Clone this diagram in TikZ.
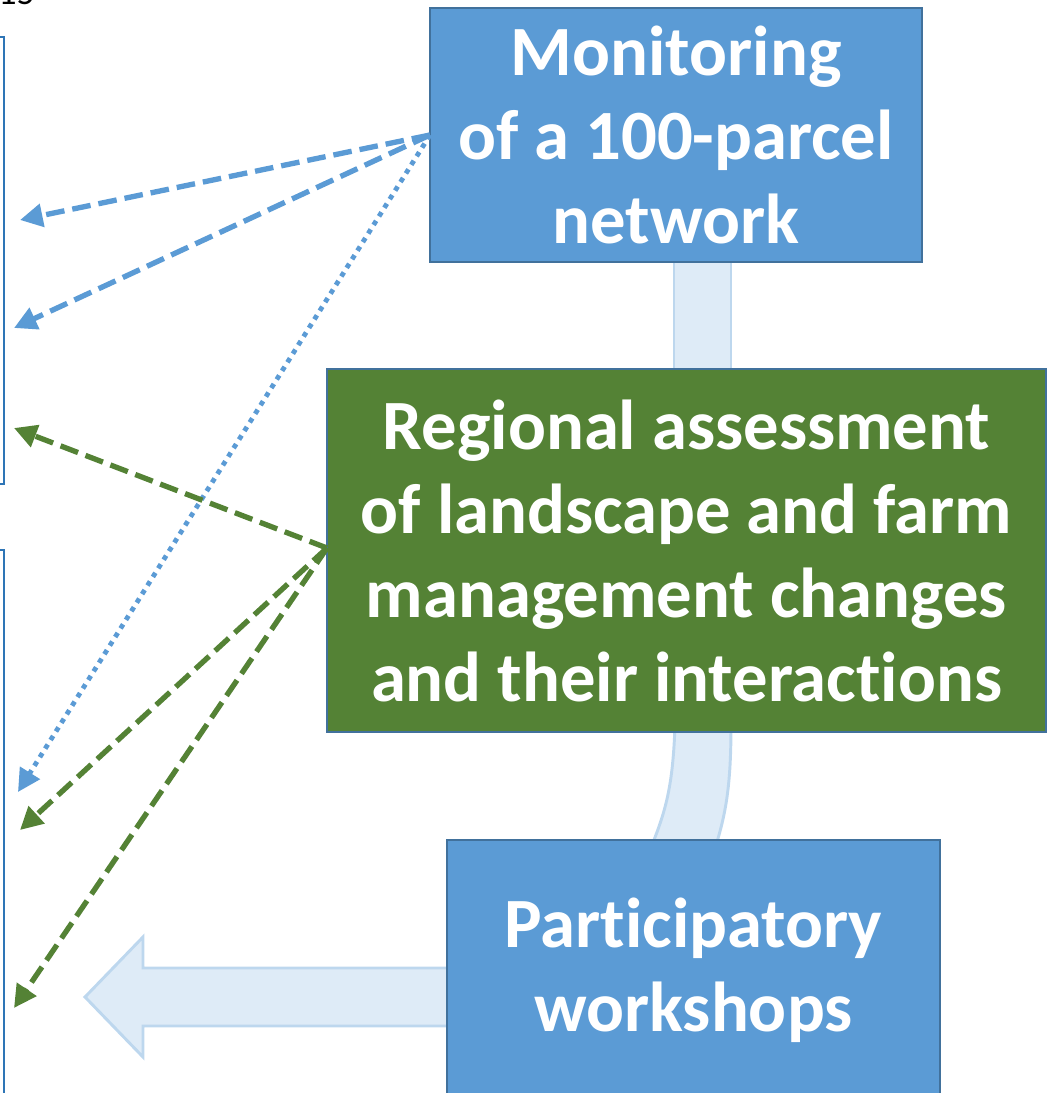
\documentclass[tikz,border=0pt]{standalone}
\usepackage{fontspec}
\setmainfont{Carlito}[Ligatures={NoCommon}]
\usetikzlibrary{arrows.meta}
\definecolor{boxblue}{HTML}{5B9BD5}
\definecolor{boxedge}{HTML}{41719C}
\definecolor{boxgreen}{HTML}{548235}
\definecolor{bandfill}{HTML}{DEEBF7}
\definecolor{bandedge}{HTML}{BDD7EE}
\definecolor{panel}{HTML}{2E75B6}
\begin{document}
\begin{tikzpicture}[x=0.75pt,y=-0.75pt,
  mainbox/.style={draw=boxedge,line width=1.9pt,text=white,align=center,
    font=\fontsize{53}{63}\selectfont\bfseries,inner sep=0pt},
  band/.style={fill=bandfill,draw=bandedge,line width=2.2pt},
  bluedash/.style={draw=boxblue,line width=4pt,dash pattern=on 14pt off 6pt,
    -{Triangle[length=17pt,width=17pt]}},
  bluedot/.style={draw=boxblue,line width=3.6pt,dash pattern=on 3.6pt off 4pt,
    -{Triangle[length=17pt,width=17pt]}},
  greendash/.style={draw=boxgreen,line width=4pt,dash pattern=on 14pt off 6pt,
    -{Triangle[length=17pt,width=17pt]}},
  panelbox/.style={draw=panel,line width=2pt}]
\useasboundingbox (0,0) rectangle (1050,1093);
\clip (0,0) rectangle (1050,1093);
% page number fragment
\node[anchor=base west,font=\fontsize{27}{30}\selectfont,inner sep=0pt] (pg) at (-2,4) {15};
% left panels
\draw[panelbox] (-20,37) rectangle (4,484);
\draw[panelbox] (-20,550) rectangle (4,1200);
% bands
\draw[band] (674,255) rectangle (731,375);
\draw[band] (675,725) .. controls (673,785) and (666,810) .. (652,845) -- (716,845) .. controls (727,810) and (731,780) .. (731,725) -- cycle;
\draw[band] (455,968) -- (143,968) -- (143,937) -- (85,997) -- (143,1057) -- (143,1026) -- (455,1026) -- cycle;
% boxes
\node[mainbox,fill=boxblue,minimum width=492*0.75pt,minimum height=254*0.75pt] (mon) at (676,135) {Monitoring\\of a 100-parcel\\network};
\node[mainbox,fill=boxgreen,minimum width=719*0.75pt,minimum height=363*0.75pt] (reg) at (686.5,550.5) {Regional assessment\\of landscape and farm\\management changes\\and their interactions};
\node[mainbox,fill=boxblue,minimum width=493*0.75pt,minimum height=260*0.75pt] (par) at (693.5,970) {Participatory\\workshops};
% arrow targets
\coordinate (m1) at (430,135);
\coordinate (g1) at (327,548);
\coordinate (t1) at (20,220);
\coordinate (t2) at (14,328);
\coordinate (t3) at (18,792);
\coordinate (t4) at (14,428);
\coordinate (t5) at (20,830);
\coordinate (t6) at (14,1008);
\draw[bluedash] (m1) -- (t1);
\draw[bluedash] (m1) -- (t2);
\draw[bluedot] (m1) -- (t3);
\draw[greendash] (g1) -- (t4);
\draw[greendash] (g1) -- (t5);
\draw[greendash] (g1) -- (t6);
\end{tikzpicture}
\end{document}
